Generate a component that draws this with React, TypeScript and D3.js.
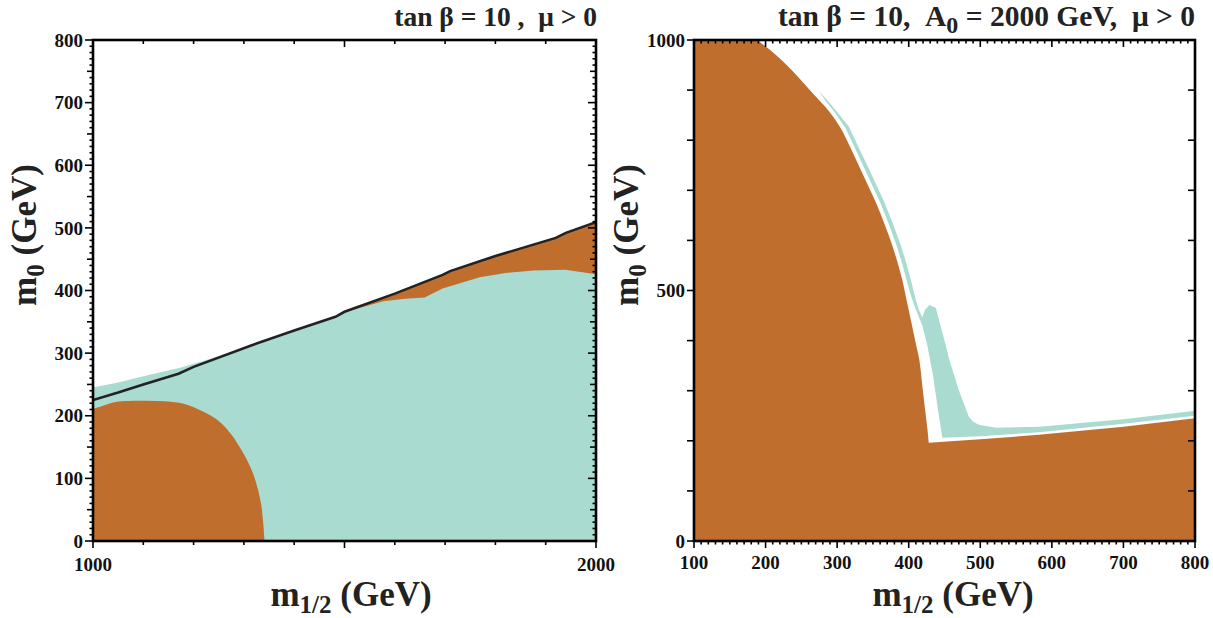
import React from "react";
import * as d3 from "d3";

// ---------- data ----------
// Left panel: tan beta = 10, mu > 0   (m_1/2 in GeV, m_0 in GeV)
const leftBlackLine: [number, number][] = [
  [1000, 225], [1050, 237], [1100, 250], [1170, 267], [1200, 278], [1317, 313],
  [1400, 336], [1482, 358], [1500, 366], [1600, 395], [1695, 425], [1710, 431],
  [1800, 455], [1920, 484], [1940, 492], [2000, 509],
];
const leftTealTop: [number, number][] = [
  [1000, 245], [1050, 253], [1100, 263], [1175, 277], [1250, 295], [1317, 313],
  [1400, 336], [1482, 358], [1498, 365], [1577, 383], [1620, 387], [1659, 389],
  [1695, 403], [1769, 421], [1820, 428], [1876, 432], [1939, 433], [2000, 426],
];
// boundary of the lower-left excluded blob (from the m0 axis down to m0 = 0)
const leftOrangeBlob: [number, number][] = [
  [1000, 211], [1020, 216], [1045, 222], [1100, 224], [1144, 223],
  [1180, 219], [1207, 211], [1232, 201], [1254, 189], [1275, 170], [1293, 148],
  [1307, 128], [1318, 108], [1327, 85], [1334, 60], [1338, 32], [1341, 0],
];
const leftXTickLabels = [1000, 2000];
const leftYTickLabels = [0, 100, 200, 300, 400, 500, 600, 700, 800];

// Right panel: tan beta = 10, A0 = 2000 GeV, mu > 0
const rightOrangeEdge: [number, number][] = [
  [188, 1000], [208, 978], [228, 952], [248, 922], [268, 890], [288, 859],
  [305, 824], [318, 787], [331, 747], [343, 710], [354, 676], [366, 633],
  [377, 590], [385, 553], [391, 521], [397, 481], [403, 441], [409, 400],
  [415, 360], [419, 310], [423, 261], [426, 225], [428, 196],
];
const rightOrangeFloor: [number, number][] = [
  [428, 196], [500, 203], [582, 212], [700, 228], [800, 245],
];
const rightTeal: [number, number][] = [
  // thin strip, outer edge going down
  [274, 899], [291, 872], [316, 828], [329, 789], [343, 747], [355, 710],
  [366, 676], [378, 633], [389, 590], [397, 553], [403, 521], [410, 481],
  [414, 462], [419, 446],
  // bump and wide band
  [423, 462], [429, 471], [438, 465], [443, 437], [450, 400], [457, 361],
  [470, 301], [484, 248], [490, 238], [498, 232], [522, 226], [582, 228],
  [700, 243], [800, 260],
  // lower edge going back
  [800, 250], [700, 234], [582, 217], [500, 209], [447, 206],
  // inner edge going up
  [441, 261], [434, 330], [426, 390], [419, 430], [410, 462], [403, 490],
  [397, 521], [391, 553], [383, 590], [372, 633], [360, 676], [349, 710],
  [337, 747], [324, 787], [311, 826], [296, 857], [284, 878],
];
const rightXTickLabels = [100, 200, 300, 400, 500, 600, 700, 800];
const rightYTickLabels = [0, 500, 1000];

// ---------- style ----------
const ORANGE = "#bf6e2e";
const TEAL = "#a9dbd0";
const FONT = "'Liberation Serif', 'Times New Roman', serif";

const W = 1213;
const H = 618;
const TOP = 40;
const BOTTOM = 541;

export default function App() {
  const lx = d3.scaleLinear().domain([1000, 2000]).range([93, 596]);
  const ly = d3.scaleLinear().domain([0, 800]).range([BOTTOM, TOP]);
  const rx = d3.scaleLinear().domain([100, 800]).range([694, 1195]);
  const ry = d3.scaleLinear().domain([0, 1000]).range([BOTTOM, TOP]);

  const lArea = (pts: [number, number][]) =>
    d3.area<[number, number]>().x((d) => lx(d[0])).y0(ly(0)).y1((d) => ly(d[1]))(pts) || "";
  const lLine = d3.line<[number, number]>().x((d) => lx(d[0])).y((d) => ly(d[1]));
  const lCurve = d3.line<[number, number]>().x((d) => lx(d[0])).y((d) => ly(d[1])).curve(d3.curveCatmullRom);
  const rCurve = d3.line<[number, number]>().x((d) => rx(d[0])).y((d) => ry(d[1])).curve(d3.curveCatmullRom);
  const rPoly = d3.line<[number, number]>().x((d) => rx(d[0])).y((d) => ry(d[1]));

  const blobPath = (lCurve(leftOrangeBlob) || "") + `L${lx(1000)},${ly(0)}Z`;
  const orangeRightPath =
    (rCurve(rightOrangeEdge) || "") +
    (rPoly(rightOrangeFloor) || "").replace(/^M/, "L") +
    `L${rx(800)},${ry(0)}L${rx(100)},${ry(0)}L${rx(100)},${ry(1000)}Z`;

  const ticks: JSX.Element[] = [];
  const tk = (x1: number, y1: number, x2: number, y2: number, k: string) =>
    ticks.push(<line key={k} x1={x1} y1={y1} x2={x2} y2={y2} stroke="#000" strokeWidth={1.6} />);

  d3.range(0, 801, 10).forEach((v) => {
    const len = v % 100 === 0 ? 8 : v % 50 === 0 ? 6 : 3.5;
    const y = ly(v);
    tk(lx(1000), y, lx(1000) - len, y, "ly" + v);
    tk(lx(2000), y, lx(2000) - len, y, "lyr" + v);
  });
  d3.range(1000, 2001, 100).forEach((v) => {
    const len = v % 500 === 0 ? 7 : 4;
    const x = lx(v);
    tk(x, BOTTOM, x, BOTTOM + len, "lx" + v);
    tk(x, TOP, x, TOP + len, "lxt" + v);
  });
  d3.range(0, 1001, 100).forEach((v) => {
    const y = ry(v);
    tk(rx(100), y, rx(100) - 7, y, "ry" + v);
    tk(rx(800), y, rx(800) - 7, y, "ryr" + v);
  });
  d3.range(100, 801, 10).forEach((v) => {
    const len = v % 100 === 0 ? 7 : 3.5;
    const x = rx(v);
    tk(x, BOTTOM, x, BOTTOM + len, "rx" + v);
    tk(x, TOP, x, TOP + len, "rxt" + v);
  });

  const tickText = { fontFamily: FONT, fontWeight: 700, fontSize: 19, fill: "#111" } as const;
  const titleText = { fontFamily: FONT, fontWeight: 700, fontSize: 27.5, fill: "#222", whiteSpace: "pre" } as const;
  const titleTextR = { ...titleText, fontSize: 29.5 } as const;
  const axisText = { fontFamily: FONT, fontWeight: 700, fontSize: 35, fill: "#222", whiteSpace: "pre" } as const;

  return (
    <svg width={W} height={H} style={{ position: "absolute", left: 0, top: 0, background: "#fff" }}>
      <defs>
        <clipPath id="clipL">
          <rect x={lx(1000)} y={TOP} width={lx(2000) - lx(1000)} height={BOTTOM - TOP} />
        </clipPath>
        <clipPath id="clipR">
          <rect x={rx(100)} y={TOP} width={rx(800) - rx(100)} height={BOTTOM - TOP} />
        </clipPath>
      </defs>

      <g clipPath="url(#clipL)">
        <path d={lArea(leftBlackLine)} fill={ORANGE} />
        <path d={lArea(leftTealTop)} fill={TEAL} />
        <path d={blobPath} fill={ORANGE} />
        <path d={lLine(leftBlackLine) || ""} fill="none" stroke="#222" strokeWidth={2.6} />
      </g>

      <g clipPath="url(#clipR)">
        <path d={orangeRightPath} fill={ORANGE} />
        <path d={(rPoly(rightTeal) || "") + "Z"} fill={TEAL} />
      </g>

      <rect x={lx(1000)} y={TOP} width={lx(2000) - lx(1000)} height={BOTTOM - TOP} fill="none" stroke="#000" strokeWidth={2.6} />
      <rect x={rx(100)} y={TOP} width={rx(800) - rx(100)} height={BOTTOM - TOP} fill="none" stroke="#000" strokeWidth={2.6} />
      {ticks}

      {leftYTickLabels.map((v) => (
        <text key={"lyl" + v} x={lx(1000) - 10} y={ly(v)} dy="0.35em" textAnchor="end" style={tickText}>{v}</text>
      ))}
      {leftXTickLabels.map((v) => (
        <text key={"lxl" + v} x={lx(v)} y={571} textAnchor="middle" style={tickText}>{v}</text>
      ))}
      {rightYTickLabels.map((v) => (
        <text key={"ryl" + v} x={rx(100) - 9} y={ry(v)} dy="0.35em" textAnchor="end" style={tickText}>{v}</text>
      ))}
      {rightXTickLabels.map((v) => (
        <text key={"rxl" + v} x={rx(v)} y={569} textAnchor="middle" style={tickText}>{v}</text>
      ))}

      <text x={597} y={26} textAnchor="end" style={titleText}>{"tan β = 10 ,  μ > 0"}</text>
      <text x={1195} y={26} textAnchor="end" style={titleTextR}>
        {"tan β = 10,  A"}
        <tspan dy={7} fontSize={24}>0</tspan>
        <tspan dy={-7}>{" = 2000 GeV,  μ > 0"}</tspan>
      </text>

      <text x={351} y={606} textAnchor="middle" style={axisText}>
        m<tspan dy={7} fontSize={25}>1/2</tspan><tspan dy={-7}>{" (GeV)"}</tspan>
      </text>
      <text x={953} y={606} textAnchor="middle" style={axisText}>
        m<tspan dy={7} fontSize={25}>1/2</tspan><tspan dy={-7}>{" (GeV)"}</tspan>
      </text>
      <text transform="translate(36,235) rotate(-90)" textAnchor="middle" style={axisText}>
        m<tspan dy={8} fontSize={25}>0</tspan><tspan dy={-8}>{" (GeV)"}</tspan>
      </text>
      <text transform="translate(638,235) rotate(-90)" textAnchor="middle" style={axisText}>
        m<tspan dy={8} fontSize={25}>0</tspan><tspan dy={-8}>{" (GeV)"}</tspan>
      </text>
    </svg>
  );
}
